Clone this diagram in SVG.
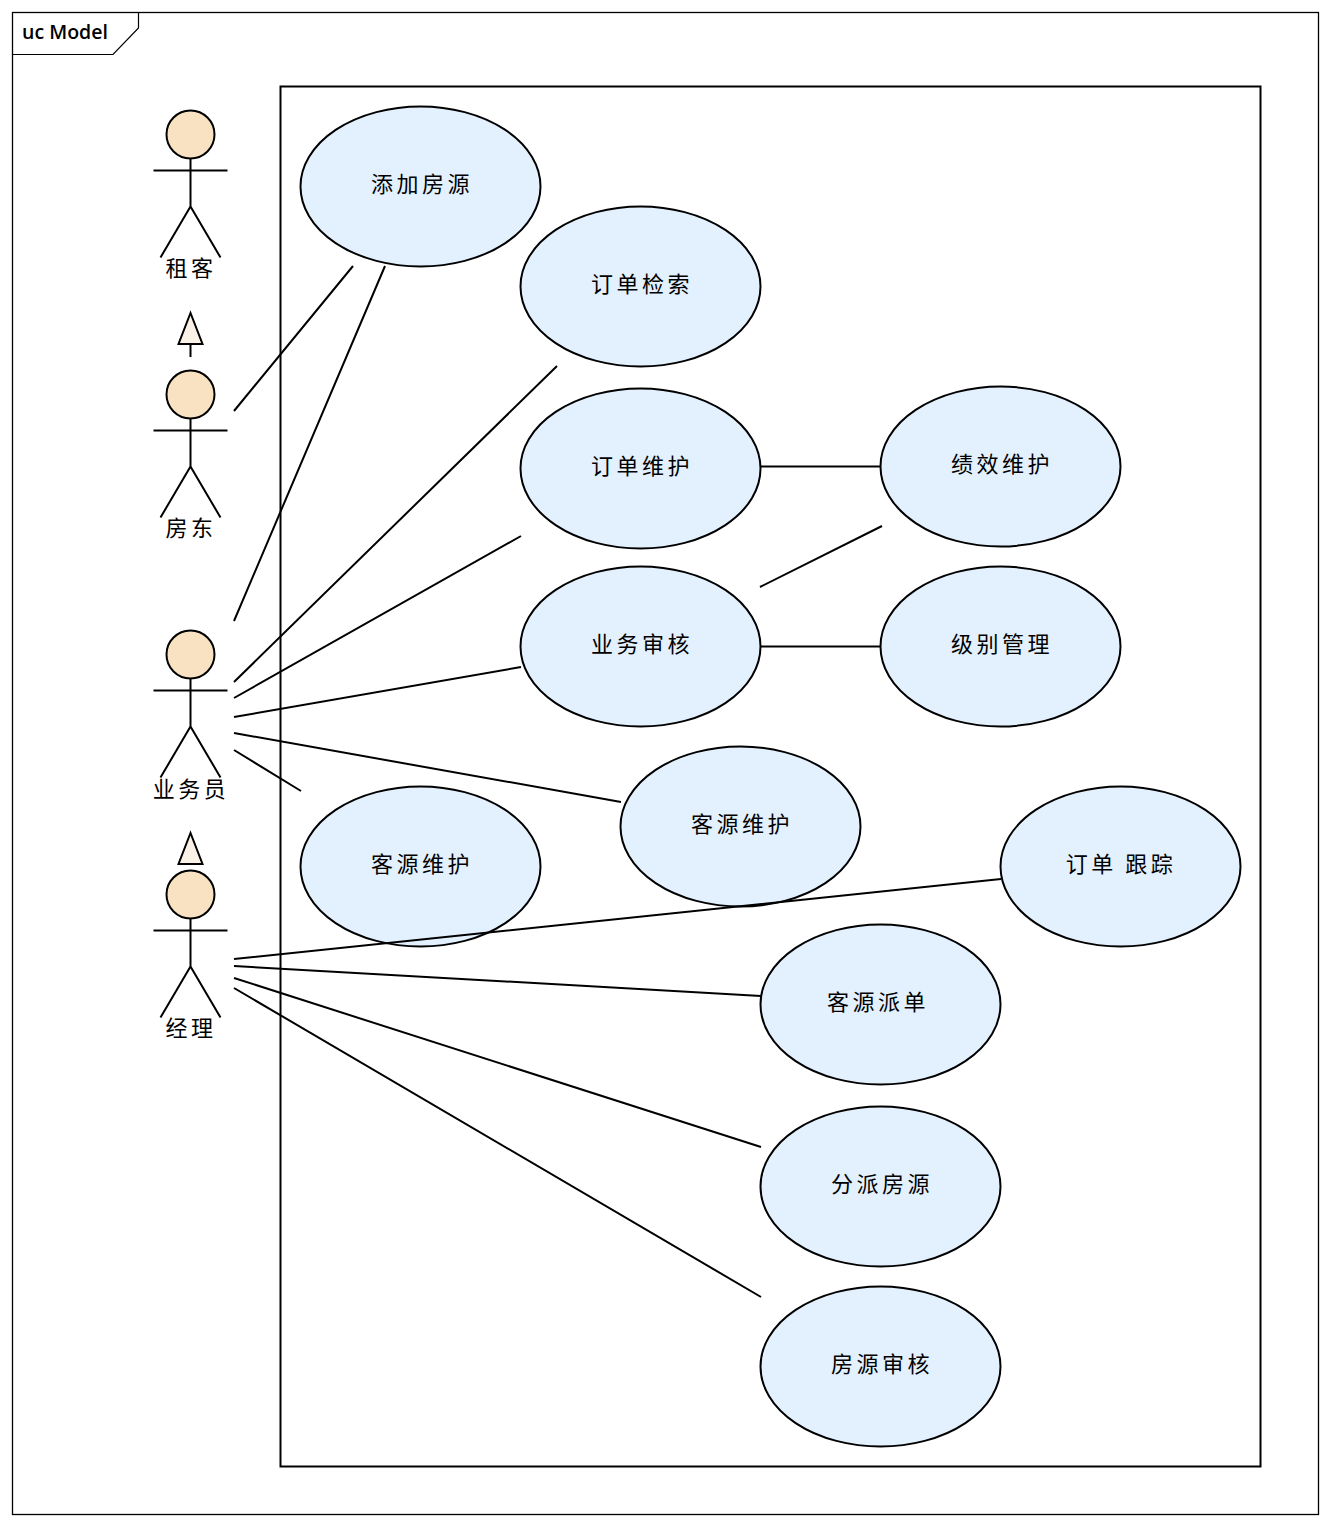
<svg xmlns="http://www.w3.org/2000/svg" width="1330" height="1526" viewBox="0 0 1330 1526">
<style>
text{font-family:"Noto Sans CJK SC","Liberation Sans",sans-serif;font-size:22px;fill:#000;text-anchor:middle;letter-spacing:3.500px}
.u{fill:#e3f0fd;stroke:#000;stroke-width:2}
.h{fill:#f8e2c1;stroke:#000;stroke-width:2}
.l{fill:none;stroke:#000;stroke-width:2}
.t{fill:#faf2e6;stroke:#000;stroke-width:2}
</style>
<defs>
<g id="stick"><circle class="h" cx="0" cy="0" r="24"/><path class="l" d="M-37 36H37M0 24V72M-30 123L0 72L30 123"/></g>
</defs>
<rect width="1330" height="1526" fill="#fff"/>
<g id="frame"><rect x="12.500" y="12.500" width="1306" height="1502" fill="none" stroke="#000" stroke-width="1.300"/>
<path d="M12.500 54.500H113L138.500 28V12.500" fill="none" stroke="#000" stroke-width="1.200"/>
<text x="65" y="39" style="font-family:'Open Sans','Liberation Sans',sans-serif;font-size:19.500px;font-weight:600;letter-spacing:0">uc Model</text></g>
<g id="boundary"><rect class="l" x="280.500" y="86.500" width="980" height="1380"/></g>
<g id="uc1"><ellipse class="u" cx="420.500" cy="186.500" rx="120" ry="80"/><text x="422" y="192">添加房源</text></g>
<g id="uc2"><ellipse class="u" cx="640.500" cy="286.500" rx="120" ry="80"/><text x="642" y="292">订单检索</text></g>
<g id="uc3"><ellipse class="u" cx="640.500" cy="468.500" rx="120" ry="80"/><text x="642" y="474">订单维护</text></g>
<g id="uc4"><ellipse class="u" cx="1000.500" cy="466.500" rx="120" ry="80"/><text x="1002" y="472">绩效维护</text></g>
<g id="uc5"><ellipse class="u" cx="640.500" cy="646.500" rx="120" ry="80"/><text x="642" y="652">业务审核</text></g>
<g id="uc6"><ellipse class="u" cx="1000.500" cy="646.500" rx="120" ry="80"/><text x="1002" y="652">级别管理</text></g>
<g id="uc7"><ellipse class="u" cx="740.500" cy="826.500" rx="120" ry="80"/><text x="742" y="832">客源维护</text></g>
<g id="uc8"><ellipse class="u" cx="420.500" cy="866.500" rx="120" ry="80"/><text x="422" y="872">客源维护</text></g>
<g id="uc9"><ellipse class="u" cx="1120.500" cy="866.500" rx="120" ry="80"/><text x="1121" y="872">订单 跟踪</text></g>
<g id="uc10"><ellipse class="u" cx="880.500" cy="1004.500" rx="120" ry="80"/><text x="878" y="1010">客源派单</text></g>
<g id="uc11"><ellipse class="u" cx="880.500" cy="1186.500" rx="120" ry="80"/><text x="882" y="1192">分派房源</text></g>
<g id="uc12"><ellipse class="u" cx="880.500" cy="1366.500" rx="120" ry="80"/><text x="882" y="1372">房源审核</text></g>
<g id="actor-tenant"><use href="#stick" x="190.500" y="134.500"/><text x="191" y="276">租客</text></g>
<g id="actor-landlord"><use href="#stick" x="190.500" y="394.500"/><text x="191" y="536">房东</text></g>
<g id="actor-sales"><use href="#stick" x="190.500" y="654.500"/><text x="191" y="796.500">业务员</text></g>
<g id="actor-manager"><use href="#stick" x="190.500" y="894.500"/><text x="191" y="1036">经理</text></g>
<g id="connectors">
<path class="l" d="M190.500 357V344"/>
<path class="t" d="M190.500 313L178.500 344H202.500Z"/>
<path class="t" d="M190.500 833L178.500 864H202.500Z"/>
<path class="l" d="M234 411L353 266M234 621L385 266M234 682L557 366M234 698L521 536M234 717L521 667M234 733L621 802M234 750L301 791"/>
<path class="l" d="M760 466.500H881M760 587L882 526M760 646.500H881"/>
<path class="l" d="M234 959L1001 879M234 966L761 996M234 978L761 1147M234 988L761 1297"/>
</g>
</svg>
